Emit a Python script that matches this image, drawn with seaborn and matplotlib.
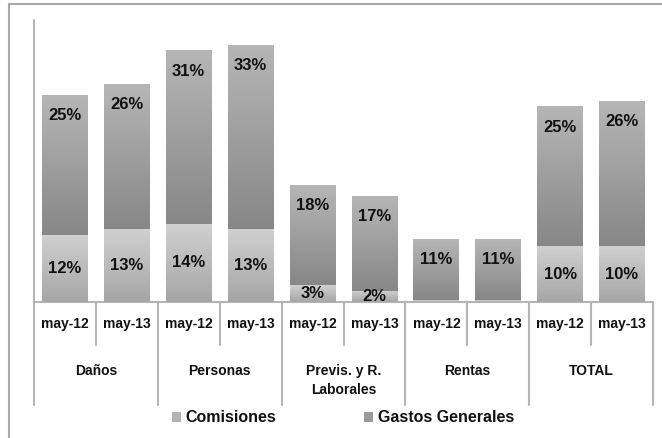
import numpy as np
import pandas as pd
import matplotlib
matplotlib.use("Agg")
import matplotlib.pyplot as plt
import seaborn as sns
from matplotlib.colors import LinearSegmentedColormap
from matplotlib.lines import Line2D
from matplotlib.patches import Patch
import matplotlib.transforms as mtransforms

# ---- data ----
categories = ["Daños", "Personas", "Previs. y R.\nLaborales", "Rentas", "TOTAL"]
periods = ["may-12", "may-13"]
comisiones = [12, 13, 14, 13, 3, 2, 0.3, 0.3, 10, 10]
gastos_generales = [25, 26, 31, 33, 18, 17, 11, 11, 25, 26]
com_labels = ["12%", "13%", "14%", "13%", "3%", "2%", "", "", "10%", "10%"]
gg_labels = ["25%", "26%", "31%", "33%", "18%", "17%", "11%", "11%", "25%", "26%"]

sns.set_theme(style="white")
plt.rcParams["font.family"] = ["Liberation Sans", "DejaVu Sans"]

bar_ids = [f"{c}|{p}" for c in categories for p in periods]
df = pd.DataFrame({
    "bar": bar_ids,
    "Comisiones": comisiones,
    "Gastos Generales": gastos_generales,
})
df["total"] = df["Comisiones"] + df["Gastos Generales"]

fig = plt.figure(figsize=(6.62, 4.38), dpi=100)
ax = fig.add_axes([34 / 662, 1 - 302 / 438, 619 / 662, 282 / 438])

W = 0.74
sns.barplot(data=df, x="bar", y="total", order=bar_ids, color="#9a9a9a",
            width=W, ax=ax, saturation=1, linewidth=0)
n_tot = len(ax.patches)
sns.barplot(data=df, x="bar", y="Comisiones", order=bar_ids, color="#bcbcbc",
            width=W, ax=ax, saturation=1, linewidth=0)
tot_patches = ax.patches[:n_tot]
com_patches = ax.patches[n_tot:]

cm_gg = LinearSegmentedColormap.from_list("gg", ["#878787", "#b6b6b6"])
cm_com = LinearSegmentedColormap.from_list("com", ["#a6a6a6", "#d0d0d0"])
grad = np.linspace(0, 1, 256).reshape(-1, 1)

for tp, cp in zip(tot_patches, com_patches):
    x0 = tp.get_x(); w = tp.get_width()
    top = tp.get_height(); cb = cp.get_height()
    im = ax.imshow(grad, cmap=cm_gg, origin="lower", aspect="auto",
                   extent=[x0, x0 + w, cb, top], zorder=3)
    im.set_clip_path(tp)
    im2 = ax.imshow(grad, cmap=cm_com, origin="lower", aspect="auto",
                    extent=[x0, x0 + w, 0, cb], zorder=3.5)
    im2.set_clip_path(cp)
ax.set_xlim(-0.5, 9.5)
ax.set_ylim(0, 50.4)

# labels
for i, (tp, cp) in enumerate(zip(tot_patches, com_patches)):
    xc = tp.get_x() + tp.get_width() / 2
    ax.annotate(gg_labels[i], (xc, tp.get_height()), xytext=(0, -21),
                textcoords="offset pixels", ha="center", va="center",
                fontsize=12, fontweight="bold", color="#111111", zorder=5)
    if com_labels[i]:
        yc = cp.get_height() / 2
        ax.text(xc, yc, com_labels[i], ha="center", va="center",
                fontsize=12, fontweight="bold", color="#111111", zorder=5)

# axes styling
for s in ["top", "right", "left"]:
    ax.spines[s].set_visible(False)
ax.spines["bottom"].set_color("#b5b5b5")
ax.spines["bottom"].set_linewidth(1.5)
ax.set_yticks([])
ax.set_xlabel("")
ax.set_ylabel("")
ax.set_xticks(range(10))
ax.set_xticklabels(periods * len(categories), fontsize=10, fontweight="bold",
                   color="#111111")
ax.tick_params(axis="x", length=0, pad=10.5)

trans = mtransforms.blended_transform_factory(ax.transData, ax.transAxes)
line_kw = dict(color="#b5b5b5", lw=1.5, transform=trans, clip_on=False)
ax.plot([-0.5, -0.5], [1.0, -(405 - 302) / 282], **line_kw)
for k in range(len(categories)):
    ax.plot([2 * k + 0.5] * 2, [0, -(345 - 302) / 282], **line_kw)
    ax.plot([2 * k + 1.5] * 2, [0, -(405 - 302) / 282], **line_kw)
    ax.text(2 * k + 0.5, -(364 - 302) / 282, categories[k], transform=trans,
            ha="center", va="top", fontsize=10, fontweight="bold",
            color="#111111", linespacing=1.45)

# legend
handles = [Patch(facecolor="#b3b3b3", edgecolor="none"),
           Patch(facecolor="#9a9a9a", edgecolor="none")]
leg = ax.legend(handles, ["Comisiones", "Gastos Generales"], ncol=2,
                loc="center left",
                bbox_to_anchor=((172 - 34) / 619, -(418 - 302) / 282),
                frameon=False, fontsize=11.5, handlelength=0.55,
                handleheight=0.6, handletextpad=0.3, columnspacing=5.5,
                borderaxespad=0, borderpad=0)
for t in leg.get_texts():
    t.set_fontweight("bold")
    t.set_color("#111111")

# outer frame (left and top edges visible)
fc = "#a8a8a8"
fig.add_artist(Line2D([9 / 662, 9 / 662], [0, 1 - 4 / 438], color=fc, lw=1.5,
                      transform=fig.transFigure))
fig.add_artist(Line2D([9 / 662, 1], [1 - 4 / 438, 1 - 4 / 438], color=fc, lw=1.5,
                      transform=fig.transFigure))

fig.savefig("out.png", dpi=100, facecolor="white")
